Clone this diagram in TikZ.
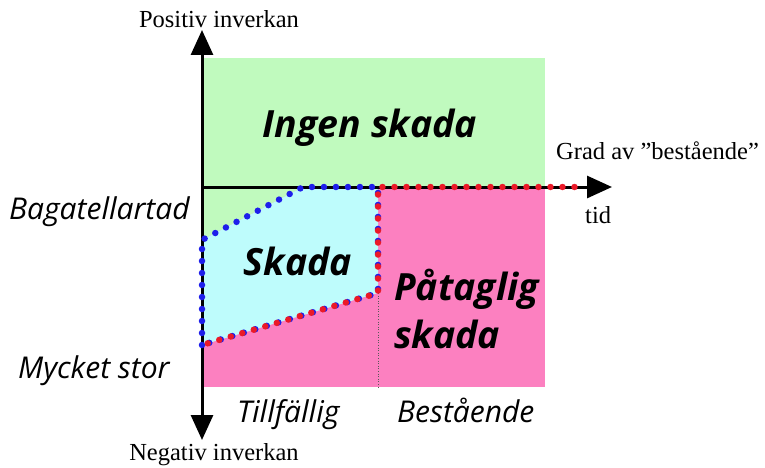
\documentclass[tikz,border=0pt]{standalone}
\usepackage{fontspec}
\setmainfont{Liberation Serif}
\newfontfamily\comic{Open Sans}
\usetikzlibrary{arrows.meta}
\definecolor{grn}{RGB}{192,250,190}
\definecolor{cyn}{RGB}{190,252,252}
\definecolor{pnk}{RGB}{252,128,192}
\definecolor{bdot}{RGB}{30,30,235}
\definecolor{rdot}{RGB}{235,25,40}
\tikzset{
  axis/.style={line width=3pt,{Triangle[length=25pt,width=22pt]}-{Triangle[length=25pt,width=22pt]}},
  haxis/.style={line width=3pt,-{Triangle[length=25pt,width=22pt]}},
  bdots/.style={bdot,line width=6.5pt,line cap=round,dash pattern=on 0pt off 12pt},
  rdots/.style={rdot,line width=6.5pt,line cap=round,dash pattern=on 0pt off 12pt,dash phase=6pt},
  big/.style={font=\comic\bfseries\itshape\fontsize{37.5}{42}\selectfont,inner sep=0pt},
  mid/.style={font=\comic\itshape\fontsize{30}{34}\selectfont,inner sep=0pt},
  serif/.style={font=\fontsize{24.5}{28}\selectfont,inner sep=0pt},
}
\begin{document}
\begin{tikzpicture}[x=1pt,y=-1pt]
\useasboundingbox (0,0) rectangle (765,468);
\coordinate (p0) at (202,187);
\coordinate (p1) at (202,345);
\coordinate (p2) at (202,240);
\coordinate (p3) at (303,187);
\coordinate (p4) at (378,187);
\coordinate (p5) at (378,293);
\coordinate (p6) at (582,187);
\coordinate (p7) at (378,387);
\fill[grn] (202,58) rectangle (545,187);
\fill[pnk] (202,187) rectangle (545,387);
\fill[grn] (p0) -- (p3) -- (p2) -- cycle;
\fill[cyn] (p1) -- (p2) -- (p3) -- (p4) -- (p5) -- cycle;
\draw[gray!70!black,line width=0.6pt,dotted] (p5) -- (p7);
\coordinate (vb) at (202,440);
\coordinate (vt) at (202,30);
\coordinate (he) at (612,187);
\draw[axis] (vb) -- (vt);
\draw[haxis] (p0) -- (he);
\draw[bdots] (p1) -- (p2) -- (p3) -- (p4) -- (p5) -- cycle;
\draw[rdots] (p1) -- (p5) -- (p4) -- (p6);
\node[big,anchor=base] (ingen) at (370,137) {Ingen skada};
\node[big,anchor=base] (skada) at (298,275) {Skada};
\node[big,anchor=base west] (pat1) at (394,300) {Påtaglig};
\node[big,anchor=base west] (pat2) at (394,348) {skada};
\node[mid,anchor=base west] (bag) at (9,219) {Bagatellartad};
\node[mid,anchor=base west] (myc) at (18,378) {Mycket stor};
\node[mid,anchor=base west] (till) at (237,422) {Tillfällig};
\node[mid,anchor=base west] (best) at (397,422) {Bestående};
\node[serif,anchor=base] (pos) at (219,28) {Positiv inverkan};
\node[serif,anchor=base] (neg) at (214,460) {Negativ inverkan};
\node[serif,anchor=base west] (grad) at (556,159) {Grad av ”bestående”};
\node[serif,anchor=base west] (tid) at (585,223) {tid};
\end{tikzpicture}
\end{document}
